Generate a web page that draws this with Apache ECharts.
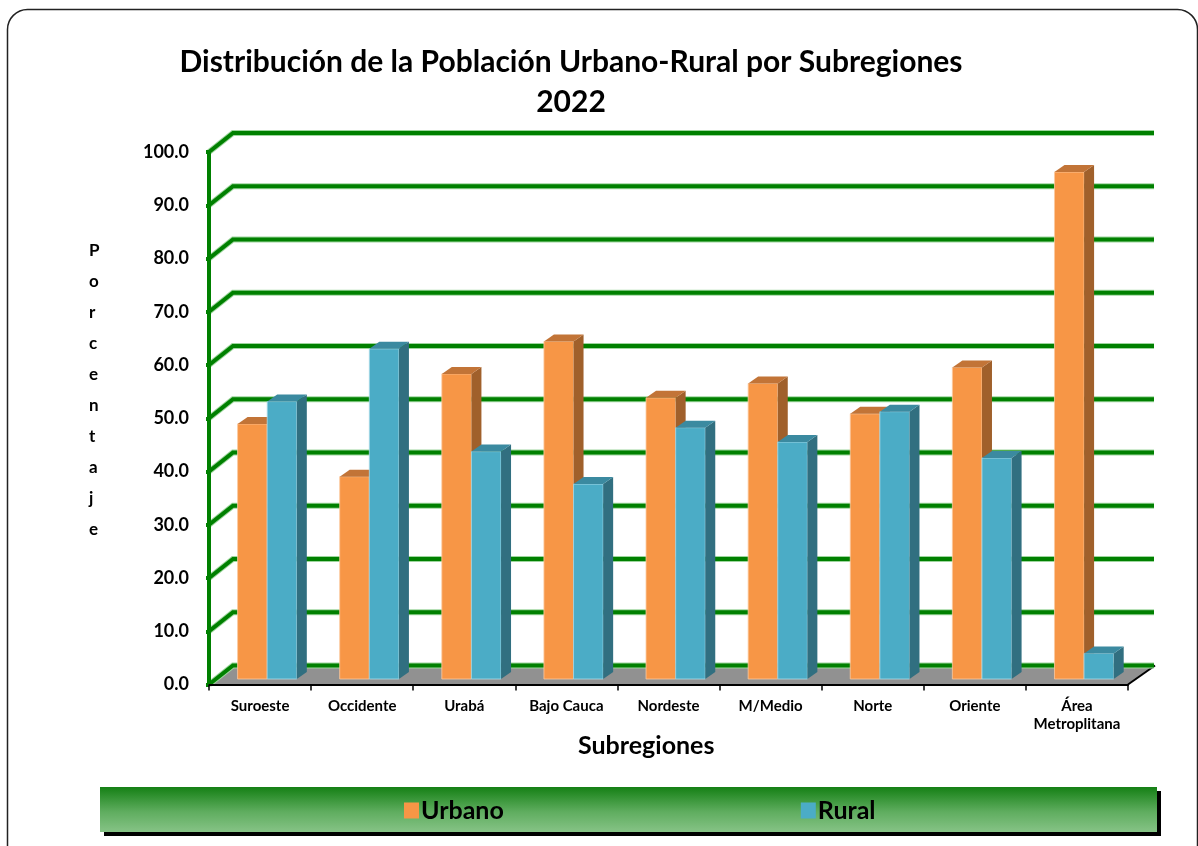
<!DOCTYPE html>
<html>
<head>
<meta charset="utf-8">
<script src="https://cdn.jsdelivr.net/npm/echarts@6/dist/echarts.min.js"></script>
<style>
html,body{margin:0;padding:0;background:#fff;}
#chart{width:1198px;height:846px;}
</style>
</head>
<body>
<div id="chart"></div>
<script>
// ---- data ----
const categories = ['Suroeste', 'Occidente', 'Urabá', 'Bajo Cauca', 'Nordeste', 'M/Medio', 'Norte', 'Oriente', 'Área\nMetroplitana'];
const urbano = [47.9, 38.0, 57.3, 63.4, 52.8, 55.5, 49.8, 58.5, 95.2];
const rural  = [52.1, 62.0, 42.7, 36.6, 47.2, 44.5, 50.2, 41.5, 4.8];
const yTicks = [0, 10, 20, 30, 40, 50, 60, 70, 80, 90, 100];
const seriesNames = ['Urbano', 'Rural'];

// ---- style constants ----
const FONT = 'Lato';
const WALL_DX = 24, WALL_DY = 19;      // depth of back wall
const BAR_DX = 10, BAR_DY = 7;         // depth of each bar
const BAR_LIFT = 5.5;                  // bars sit slightly behind front edge
const colors = {
  Urbano: {front: '#F79646', top: '#C27437', side: '#A0602B', edge: '#FBC9A0'},
  Rural:  {front: '#4BACC6', top: '#3B8AA0', side: '#316F80', edge: '#A9DCEA'}
};
const GREEN = '#008000';

const chart = echarts.init(document.getElementById('chart'), null, {renderer: 'canvas'});
const N = categories.length;

function gridLinesRender(params, api) {
  const v = api.value(1);
  const bw = api.size([1, 0])[0];
  const pl = api.coord([0, v]);
  const pr = api.coord([N - 1, v]);
  const lx = pl[0] - bw / 2, rx = pr[0] + bw / 2;
  const y = pl[1];
  const pts = [[lx, y], [lx + WALL_DX, y - WALL_DY], [rx + WALL_DX + 2, y - WALL_DY]];
  return {
    type: 'group',
    children: [
      {type: 'polyline', shape: {points: pts}, style: {stroke: '#9ED69E', lineWidth: 6, fill: null}},
      {type: 'polyline', shape: {points: pts}, style: {stroke: GREEN, lineWidth: 4, fill: null}}
    ]
  };
}

function floorRender(params, api) {
  const bw = api.size([1, 0])[0];
  const pl = api.coord([0, 0]);
  const pr = api.coord([N - 1, 0]);
  const lx = pl[0] - bw / 2, rx = pr[0] + bw / 2, y = pl[1];
  const children = [
    {type: 'polygon', shape: {points: [[lx, y], [rx, y], [rx + WALL_DX + 3, y - WALL_DY], [lx + WALL_DX, y - WALL_DY]]},
     style: {fill: '#919191'}},
    {type: 'line', shape: {x1: rx, y1: y, x2: rx + WALL_DX + 3, y2: y - WALL_DY}, style: {stroke: '#000', lineWidth: 2}}
  ];
  return {type: 'group', children: children};
}

function makeBarRender(si) {
  const c = colors[seriesNames[si]];
  return function (params, api) {
    const idx = api.value(0), val = api.value(1);
    const bw = api.size([1, 0])[0];
    const base = api.coord([idx, 0]);
    const topP = api.coord([idx, val]);
    const start = base[0] - bw / 2;
    const w = bw * 0.29;
    const x0 = start + bw * (0.28 + si * 0.29);
    const yb = base[1] - BAR_LIFT;
    const yt = topP[1] - BAR_LIFT;
    return {
      type: 'group',
      children: [
        {type: 'rect', shape: {x: x0, y: yt, width: w, height: yb - yt},
         style: {fill: c.front, stroke: c.edge, lineWidth: 0.8}},
        {type: 'polygon', shape: {points: [[x0 + w, yt], [x0 + w + BAR_DX, yt - BAR_DY], [x0 + w + BAR_DX, yb - BAR_DY], [x0 + w, yb]]},
         style: {fill: c.side}},
        {type: 'polygon', shape: {points: [[x0, yt], [x0 + BAR_DX, yt - BAR_DY], [x0 + w + BAR_DX, yt - BAR_DY], [x0 + w, yt]]},
         style: {fill: c.top}}
      ]
    };
  };
}

const option = {
  backgroundColor: '#ffffff',
  animation: false,
  title: {
    text: 'Distribución de la Población Urbano-Rural por Subregiones\n2022',
    left: 566, top: 37, textAlign: 'center',
    textStyle: {fontFamily: FONT, fontWeight: 'bold', fontSize: 30, color: '#000', lineHeight: 40}
  },
  graphic: [
    {type: 'rect', left: 5, top: 7, shape: {width: 1190, height: 860, r: 20},
     style: {fill: null, stroke: '#222', lineWidth: 1.5}, z: -10},
    {type: 'text', left: 89, top: 235,
     style: {text: 'P\no\nr\nc\ne\nn\nt\na\nj\ne', fontFamily: FONT, fontWeight: 'bold', fontSize: 17,
             lineHeight: 31, fill: '#000', align: 'center'}},
    {type: 'text', left: 578, top: 733,
     style: {text: 'Subregiones', fontFamily: FONT, fontWeight: 'bold', fontSize: 25, fill: '#000'}},
    {type: 'rect', left: 104, top: 791, shape: {width: 1057, height: 45}, style: {fill: '#000'}, z: 1},
    {type: 'rect', left: 100, top: 787, shape: {width: 1057, height: 45},
     style: {fill: new echarts.graphic.LinearGradient(0, 0, 0, 1, [
       {offset: 0, color: '#158015'}, {offset: 0.55, color: '#5fad5f'}, {offset: 1, color: '#86c386'}])}, z: 2}
  ],
  legend: {
    data: seriesNames,
    left: 399, top: 793, itemGap: 297, itemWidth: 15, itemHeight: 16, icon: 'rect', z: 10,
    textStyle: {fontFamily: FONT, fontWeight: 'bold', fontSize: 25, color: '#000', padding: [0, 0, 0, -3]}
  },
  grid: [
    {left: 209, top: 152, width: 919, height: 532.5}
  ],
  xAxis: [{
    type: 'category', data: categories, gridIndex: 0, z: 6,
    axisLine: {show: true, lineStyle: {color: '#000', width: 2}},
    axisTick: {show: true, length: 6, lineStyle: {color: '#000', width: 1.5}},
    axisLabel: {interval: 0, fontFamily: FONT, fontWeight: 'bold', fontSize: 15, color: '#000', margin: 13, lineHeight: 18},
    splitLine: {show: false}
  }],
  yAxis: [{
    type: 'value', min: 0, max: 100, interval: 10, gridIndex: 0, z: 6,
    axisLine: {show: true, lineStyle: {color: GREEN, width: 4}},
    axisTick: {show: true, length: 3, lineStyle: {color: GREEN, width: 4}},
    axisLabel: {fontFamily: FONT, fontWeight: 'bold', fontSize: 18, color: '#000', margin: 20,
                formatter: v => v.toFixed(1)},
    splitLine: {show: false}
  }],
  series: [
    {type: 'custom', name: 'floor', coordinateSystem: 'cartesian2d', clip: false, z: 1, silent: true,
     renderItem: floorRender, data: [[0, 0]]},
    {type: 'custom', name: 'grid', coordinateSystem: 'cartesian2d', clip: false, z: 2, silent: true,
     renderItem: gridLinesRender, data: yTicks.map(v => [0, v])},
    {type: 'custom', name: 'Urbano', coordinateSystem: 'cartesian2d', clip: false, z: 3,
     itemStyle: {color: colors.Urbano.front},
     renderItem: makeBarRender(0), data: urbano.map((v, i) => [i, v])},
    {type: 'custom', name: 'Rural', coordinateSystem: 'cartesian2d', clip: false, z: 4,
     itemStyle: {color: colors.Rural.front},
     renderItem: makeBarRender(1), data: rural.map((v, i) => [i, v])}
  ]
};
chart.setOption(option);
</script>
</body>
</html>
